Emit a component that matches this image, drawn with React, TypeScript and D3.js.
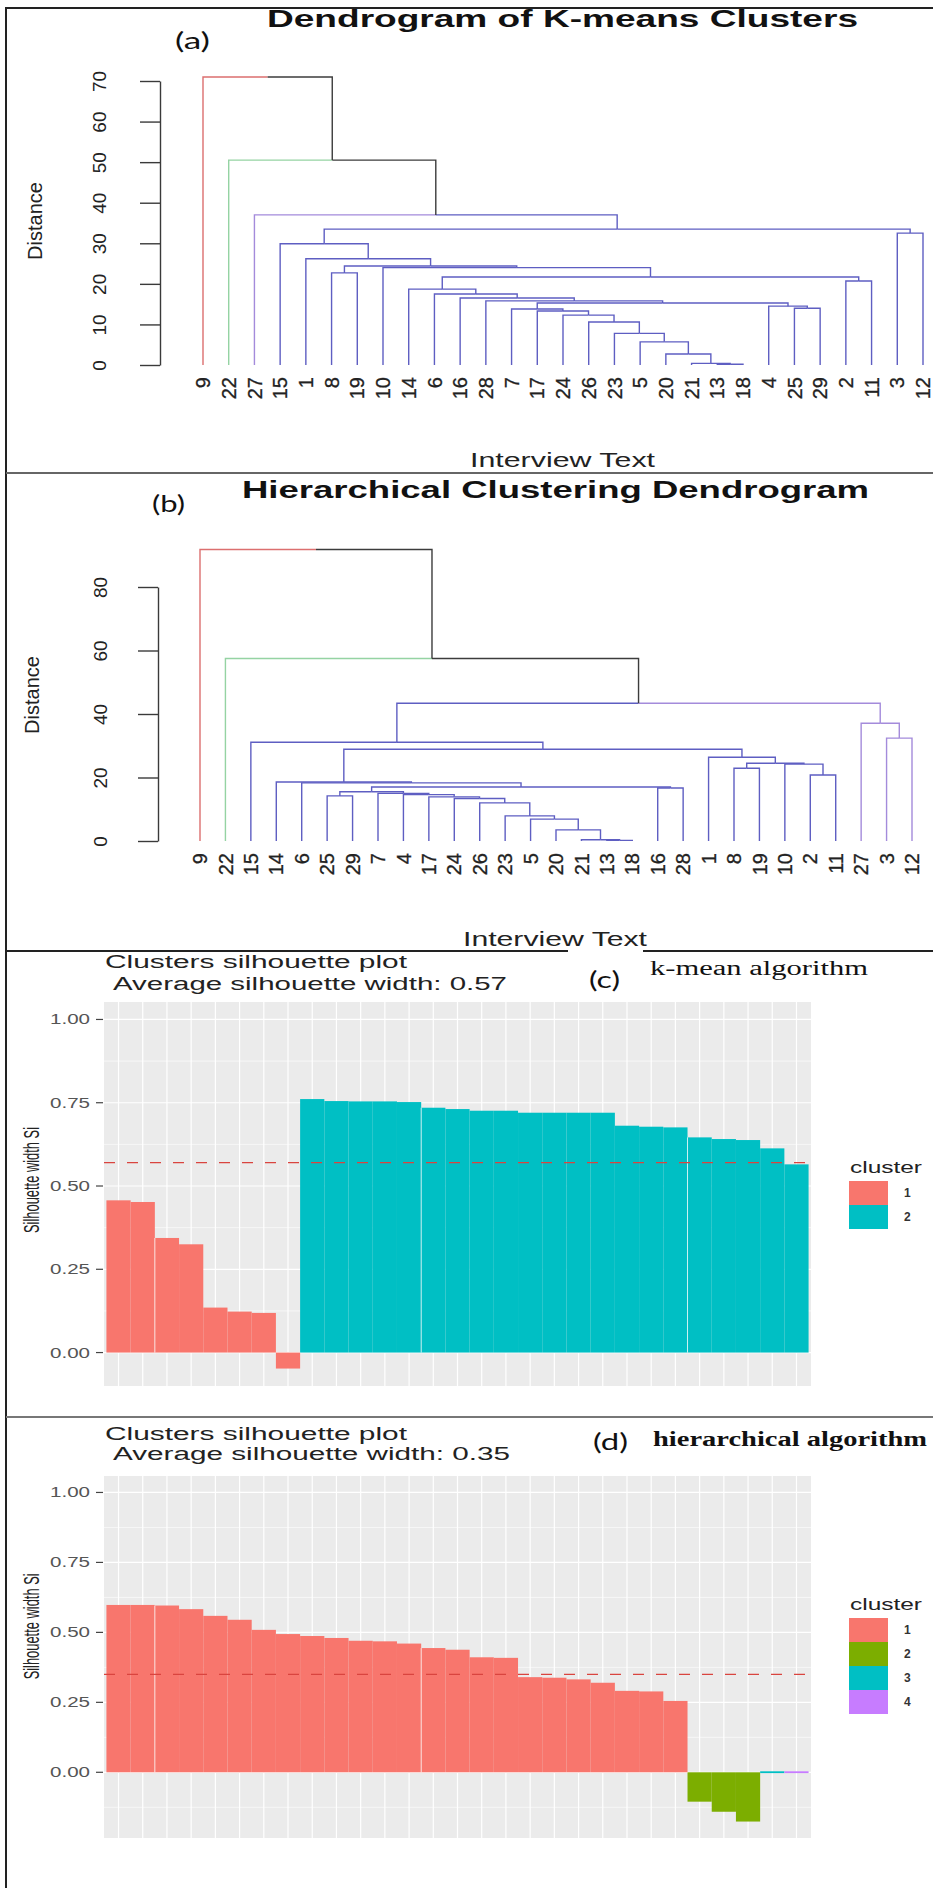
import { useEffect, useRef } from "react";
import * as d3 from "d3";

const SANS = "'Liberation Sans', Arial, Helvetica, sans-serif";
const SERIF = "'Liberation Serif', 'Times New Roman', serif";
const LABEL = "Lato, 'Open Sans', sans-serif";

// ---- (a) dendrogram of k-means clusters: hclust-style merge rows ----
// negative = observation number, positive = earlier merge row (1-based)
const mergeKmeans: [number, number][] = [
  [-13, -18], [-21, 1], [-20, 2], [-5, 3], [-23, 4], [-26, 5], [-24, 6],
  [-17, 7], [-7, 8], [-25, -29], [-4, 10], [9, 11], [-28, 12], [-16, 13],
  [-6, 14], [-14, 15], [-2, -11], [16, 17], [-8, -19], [-10, 18], [19, 20],
  [-1, 21], [-15, 22], [-3, -12], [23, 24], [-27, 25], [-22, 26], [-9, 27],
];
const heightKmeans = [
  0.2, 0.4, 2.7, 5.7, 7.8, 10.6, 12.3, 13.3, 13.8, 14.0, 14.5, 15.3, 15.8, 16.5,
  17.5, 18.7, 20.7, 21.7, 22.7, 24.0, 24.4, 26.2, 29.9, 32.5, 33.5, 37.0, 50.5, 71.0,
];
// cluster of observations 1..29
const cutKmeans = [4, 4, 4, 4, 4, 4, 4, 4, 1, 4, 4, 4, 4, 4, 4, 4, 4, 4, 4, 4, 4, 2, 4, 4, 4, 4, 3, 4, 4];
const branchColorsKmeans = ["#dc6f6f", "#95d3a3", "#a48bdb", "#5e5ec2"];
const distTicksKmeans = [0, 10, 20, 30, 40, 50, 60, 70];

// ---- (b) hierarchical clustering dendrogram ----
const mergeHier: [number, number][] = [
  [-13, -18], [-21, 1], [-20, 2], [-5, 3], [-23, 4], [-26, 5], [-24, 6],
  [-17, 7], [-25, -29], [-4, 8], [-7, 10], [9, 11], [-16, -28], [12, 13],
  [-6, 14], [-14, 15], [-2, -11], [-8, -19], [-10, 17], [18, 19], [-1, 20],
  [16, 21], [-15, 22], [-3, -12], [-27, 24], [23, 25], [-22, 26], [-9, 27],
];
const heightHier = [
  0.2, 0.4, 3.5, 6.9, 7.9, 12.0, 13.4, 13.9, 14.2, 14.6, 15.0, 15.5, 16.7, 17.0,
  18.3, 18.6, 20.8, 22.9, 24.2, 24.5, 26.4, 28.9, 31.1, 32.4, 37.1, 43.4, 57.5, 91.8,
];
const cutHier = [3, 3, 4, 3, 3, 3, 3, 3, 1, 3, 3, 4, 3, 3, 3, 3, 3, 3, 3, 3, 3, 2, 3, 3, 3, 3, 4, 3, 3];
const branchColorsHier = ["#dc6f6f", "#95d3a3", "#5e5ec2", "#a48bdb"];
const distTicksHier = [0, 20, 40, 60, 80];

// ---- (c) silhouette, k-means ----
const silKmeans = [
  0.457, 0.452, 0.344, 0.325, 0.135, 0.123, 0.119, -0.048,
  0.761, 0.755, 0.754, 0.754, 0.752, 0.735, 0.731, 0.726, 0.726, 0.72, 0.72, 0.72, 0.72,
  0.681, 0.678, 0.676, 0.646, 0.641, 0.638, 0.613, 0.565,
];
const silKmeansCluster = [1, 1, 1, 1, 1, 1, 1, 1, 2, 2, 2, 2, 2, 2, 2, 2, 2, 2, 2, 2, 2, 2, 2, 2, 2, 2, 2, 2, 2];
const avgKmeans = 0.57;

// ---- (d) silhouette, hierarchical ----
const silHier = [
  0.598, 0.598, 0.596, 0.583, 0.559, 0.545, 0.509, 0.494, 0.487, 0.48, 0.47, 0.468,
  0.46, 0.444, 0.438, 0.411, 0.409, 0.34, 0.338, 0.332, 0.32, 0.291, 0.289, 0.255,
  -0.105, -0.141, -0.176, 0, 0,
];
const silHierCluster = [1, 1, 1, 1, 1, 1, 1, 1, 1, 1, 1, 1, 1, 1, 1, 1, 1, 1, 1, 1, 1, 1, 1, 1, 2, 2, 2, 3, 4];
const avgHier = 0.35;

const ggColors = ["#F8766D", "#7CAE00", "#00BFC4", "#C77CFF"];
const ggColorsTwo = ["#F8766D", "#00BFC4"];
const silTicks = [0, 0.25, 0.5, 0.75, 1];
// seams visible inside the bar blocks of the original rendering
const barSeams = [2, 13, 24];

function drawDendrogram(svg: any, cfg: any) {
  const { merge, height, cut, colors, xRange, yDomain, yRange, ticks, axisX, tickLabelX, labelTop } = cfg;
  const leavesOf = (id: number): number[] =>
    id < 0 ? [-id] : [...leavesOf(merge[id - 1][0]), ...leavesOf(merge[id - 1][1])];
  const order = leavesOf(merge.length);
  const x = d3.scalePoint<number>().domain(order).range(xRange);
  const y = d3.scaleLinear().domain(yDomain).range(yRange);
  const nodeX = (id: number): number =>
    id < 0 ? (x(-id) as number) : (nodeX(merge[id - 1][0]) + nodeX(merge[id - 1][1])) / 2;
  const nodeH = (id: number) => (id < 0 ? 0 : height[id - 1]);
  const edgeColor = (id: number) => {
    const groups = Array.from(new Set(leavesOf(id).map((o) => cut[o - 1])));
    return groups.length === 1 ? colors[groups[0] - 1] : "#3c3c3c";
  };

  const edges: { p: number; c: number }[] = [];
  merge.forEach((pair: number[], i: number) => pair.forEach((c) => edges.push({ p: i + 1, c })));

  svg
    .append("g")
    .selectAll("path")
    .data(edges)
    .join("path")
    .attr("d", (e: any) => `M${nodeX(e.p)},${y(nodeH(e.p))}H${nodeX(e.c)}V${y(nodeH(e.c))}`)
    .attr("fill", "none")
    .attr("stroke", (e: any) => edgeColor(e.c))
    .attr("stroke-width", 1.4);

  // leaf labels, rotated
  svg
    .append("g")
    .selectAll("text")
    .data(order)
    .join("text")
    .attr("transform", (o: number) => `translate(${x(o)},${labelTop}) rotate(-90)`)
    .attr("dy", "0.36em")
    .attr("text-anchor", "end")
    .attr("font-family", SANS)
    .attr("font-size", 20)
    .attr("fill", "#222")
    .attr("stroke", "#222")
    .attr("stroke-width", 0.3)
    .text((o: number) => String(o));

  const ax = svg
    .append("g")
    .attr("transform", `translate(${axisX},0)`)
    .call(d3.axisLeft(y).tickValues(ticks).tickSize(20).tickSizeOuter(0));
  ax.select(".domain").attr("stroke", "#3a3a3a").attr("stroke-width", 1.4);
  ax.selectAll(".tick line").attr("stroke", "#3a3a3a").attr("stroke-width", 1.4);
  ax.selectAll(".tick text")
    .attr("x", 0)
    .attr("dy", "0.36em")
    .attr("text-anchor", "middle")
    .attr("transform", `translate(${tickLabelX - axisX},0) rotate(-90)`)
    .attr("font-family", SANS)
    .attr("font-size", 19)
    .attr("fill", "#222");
}

function drawSilhouette(svg: any, cfg: any) {
  const { values, clusters, colors, top, bottom, avg, keyLabels, legendTitleY, keyTop } = cfg;
  const n = values.length;
  const lo = Math.min(0, d3.min(values) as number);
  const pad = (1 - lo) * 0.05;
  const y = d3.scaleLinear().domain([lo - pad, 1 + pad]).range([bottom, top]);
  const x = d3.scaleLinear().domain([0.4, n + 0.6]).range([104, 811]);
  const [x0, x1] = x.range();

  const g = svg.append("g");
  g.append("rect").attr("x", x0).attr("y", top).attr("width", x1 - x0).attr("height", bottom - top).attr("fill", "#EBEBEB");

  const minor = d3.range(-0.875, 1.2, 0.25).filter((v) => v > lo - pad && v < 1 + pad);
  g.selectAll(".minor")
    .data(minor)
    .join("line")
    .attr("x1", x0).attr("x2", x1)
    .attr("y1", (v: number) => y(v)).attr("y2", (v: number) => y(v))
    .attr("stroke", "#fff").attr("stroke-width", 0.6);
  g.selectAll(".major")
    .data(silTicks)
    .join("line")
    .attr("x1", x0).attr("x2", x1)
    .attr("y1", (v: number) => y(v)).attr("y2", (v: number) => y(v))
    .attr("stroke", "#fff").attr("stroke-width", 1.2);
  g.selectAll(".vgrid")
    .data(d3.range(1, n + 1))
    .join("line")
    .attr("x1", (i: number) => x(i)).attr("x2", (i: number) => x(i))
    .attr("y1", top).attr("y2", bottom)
    .attr("stroke", "#fff").attr("stroke-width", 1.2);

  g.selectAll(".bar")
    .data(values)
    .join("rect")
    .attr("x", (_: number, i: number) => x(i + 0.5))
    .attr("width", x(1.5) - x(0.5))
    .attr("y", (v: number) => Math.min(y(v), y(0) - (v === 0 ? 1 : 0)))
    .attr("height", (v: number) => Math.max(1.8, Math.abs(y(v) - y(0))))
    .attr("fill", (_: number, i: number) => colors[clusters[i] - 1]);

  g.selectAll(".seam")
    .data(barSeams.filter((b) => b < n && Math.sign(values[b - 1]) === Math.sign(values[b]) && values[b] !== 0))
    .join("line")
    .attr("x1", (b: number) => x(b + 0.5)).attr("x2", (b: number) => x(b + 0.5))
    .attr("y1", y(0))
    .attr("y2", (b: number) => y(Math.min(values[b - 1], values[b])))
    .attr("stroke", "#fff").attr("stroke-opacity", 0.75).attr("stroke-width", 1);

  g.append("line")
    .attr("x1", x0).attr("x2", x1)
    .attr("y1", y(avg)).attr("y2", y(avg))
    .attr("stroke", "#d9443f").attr("stroke-width", 1.3).attr("stroke-dasharray", "11,12");

  // y axis
  g.selectAll(".tick")
    .data(silTicks)
    .join("line")
    .attr("x1", x0 - 8).attr("x2", x0 - 1)
    .attr("y1", (v: number) => y(v)).attr("y2", (v: number) => y(v))
    .attr("stroke", "#444").attr("stroke-width", 1.2);
  g.selectAll(".ticklabel")
    .data(silTicks)
    .join("text")
    .attr("x", x0 - 54).attr("y", (v: number) => y(v) + 5)
    .attr("textLength", 40).attr("lengthAdjust", "spacingAndGlyphs")
    .attr("font-family", SANS).attr("font-size", 14).attr("fill", "#555")
    .text((v: number) => d3.format(".2f")(v));

  g.append("text")
    .attr("transform", `translate(31,${y(0.5) - 6}) rotate(-90)`)
    .attr("dy", "0.36em").attr("text-anchor", "middle")
    .attr("textLength", 106).attr("lengthAdjust", "spacingAndGlyphs")
    .attr("font-family", SANS).attr("font-size", 22).attr("fill", "#222")
    .text("Silhouette width Si");

  // legend
  g.append("text")
    .attr("x", 850).attr("y", legendTitleY)
    .attr("textLength", 72).attr("lengthAdjust", "spacingAndGlyphs")
    .attr("font-family", SANS).attr("font-size", 17).attr("fill", "#222")
    .text("cluster");
  const keyH = 24;
  g.selectAll(".key")
    .data(keyLabels)
    .join("rect")
    .attr("x", 849).attr("y", (_: string, i: number) => keyTop + i * keyH)
    .attr("width", 39).attr("height", keyH)
    .attr("fill", (_: string, i: number) => colors[i]);
  g.selectAll(".keylabel")
    .data(keyLabels)
    .join("text")
    .attr("x", 904).attr("y", (_: string, i: number) => keyTop + i * keyH + keyH / 2 + 4)
    .attr("font-family", SANS).attr("font-size", 12).attr("font-weight", "bold").attr("fill", "#333")
    .text((d: string) => d);
}

export default function App() {
  const ref = useRef<SVGSVGElement>(null);

  useEffect(() => {
    document.body.style.margin = "0";
    const svg = d3.select(ref.current);
    svg.selectAll("*").remove();
    svg.append("rect").attr("width", 933).attr("height", 1888).attr("fill", "#fff");

    const text = (x: number, yb: number, s: string, opts: any = {}) => {
      const t = svg
        .append("text")
        .attr("x", x)
        .attr("y", yb)
        .attr("font-family", opts.family || SANS)
        .attr("font-size", opts.size || 18)
        .attr("font-weight", opts.weight || "normal")
        .attr("fill", opts.fill || "#111")
        .text(s);
      if (opts.width) t.attr("textLength", opts.width).attr("lengthAdjust", "spacingAndGlyphs");
      return t;
    };

    // ---------- (a) ----------
    drawDendrogram(svg, {
      merge: mergeKmeans, height: heightKmeans, cut: cutKmeans, colors: branchColorsKmeans,
      xRange: [203, 923], yDomain: [0, 70], yRange: [365, 81], ticks: distTicksKmeans,
      axisX: 160, tickLabelX: 99, labelTop: 377,
    });
    text(267, 27, "Dendrogram of K-means Clusters", { size: 24, weight: "bold", width: 591 });
    text(175, 49, "(a)", { family: LABEL, size: 24, width: 35 });
    text(470, 467, "Interview Text", { size: 20, width: 185, fill: "#222" });
    svg.append("text")
      .attr("transform", "translate(35,221) rotate(-90)")
      .attr("dy", "0.36em").attr("text-anchor", "middle")
      .attr("font-family", SANS).attr("font-size", 20).attr("fill", "#222")
      .text("Distance");

    // ---------- (b) ----------
    drawDendrogram(svg, {
      merge: mergeHier, height: heightHier, cut: cutHier, colors: branchColorsHier,
      xRange: [200, 912], yDomain: [0, 80], yRange: [841, 587], ticks: distTicksHier,
      axisX: 158, tickLabelX: 100, labelTop: 853,
    });
    text(242, 498, "Hierarchical Clustering Dendrogram", { size: 23, weight: "bold", width: 627 });
    text(152, 512, "(b)", { family: LABEL, size: 24, width: 33 });
    text(463, 946, "Interview Text", { size: 20, width: 184, fill: "#222" });
    svg.append("text")
      .attr("transform", "translate(32,695) rotate(-90)")
      .attr("dy", "0.36em").attr("text-anchor", "middle")
      .attr("font-family", SANS).attr("font-size", 20).attr("fill", "#222")
      .text("Distance");

    // ---------- (c) ----------
    drawSilhouette(svg, {
      values: silKmeans, clusters: silKmeansCluster, colors: ggColorsTwo,
      top: 1002, bottom: 1386, avg: avgKmeans, keyLabels: ["1", "2"],
      legendTitleY: 1173, keyTop: 1181,
    });
    text(105, 968, "Clusters silhouette plot", { size: 18, width: 302, fill: "#222" });
    text(113, 990, "Average silhouette width: 0.57", { size: 18, width: 394, fill: "#222" });
    text(589, 988, "(c)", { family: LABEL, size: 24, width: 31 });
    text(650, 975, "k-mean algorithm", { family: SERIF, size: 20, width: 218 });

    // ---------- (d) ----------
    drawSilhouette(svg, {
      values: silHier, clusters: silHierCluster, colors: ggColors,
      top: 1476, bottom: 1838, avg: avgHier, keyLabels: ["1", "2", "3", "4"],
      legendTitleY: 1610, keyTop: 1618,
    });
    text(105, 1440, "Clusters silhouette plot", { size: 18, width: 302, fill: "#222" });
    text(113, 1460, "Average silhouette width: 0.35", { size: 18, width: 397, fill: "#222" });
    text(593, 1450, "(d)", { family: LABEL, size: 24, width: 35 });
    text(653, 1446, "hierarchical algorithm", { family: SERIF, size: 20, weight: "bold", width: 274 });

    // ---------- frame ----------
    const frame = svg.append("g").attr("fill", "none");
    frame.append("path").attr("d", "M6,1888V8H933").attr("stroke", "#222").attr("stroke-width", 2);
    frame.append("path").attr("d", "M6,473H933").attr("stroke", "#666").attr("stroke-width", 2);
    frame.append("path").attr("d", "M6,951H568M643,951H933").attr("stroke", "#222").attr("stroke-width", 2);
    frame.append("path").attr("d", "M6,1417H933").attr("stroke", "#777").attr("stroke-width", 2);
  }, []);

  return <svg ref={ref} width={933} height={1888} style={{ display: "block" }} />;
}
